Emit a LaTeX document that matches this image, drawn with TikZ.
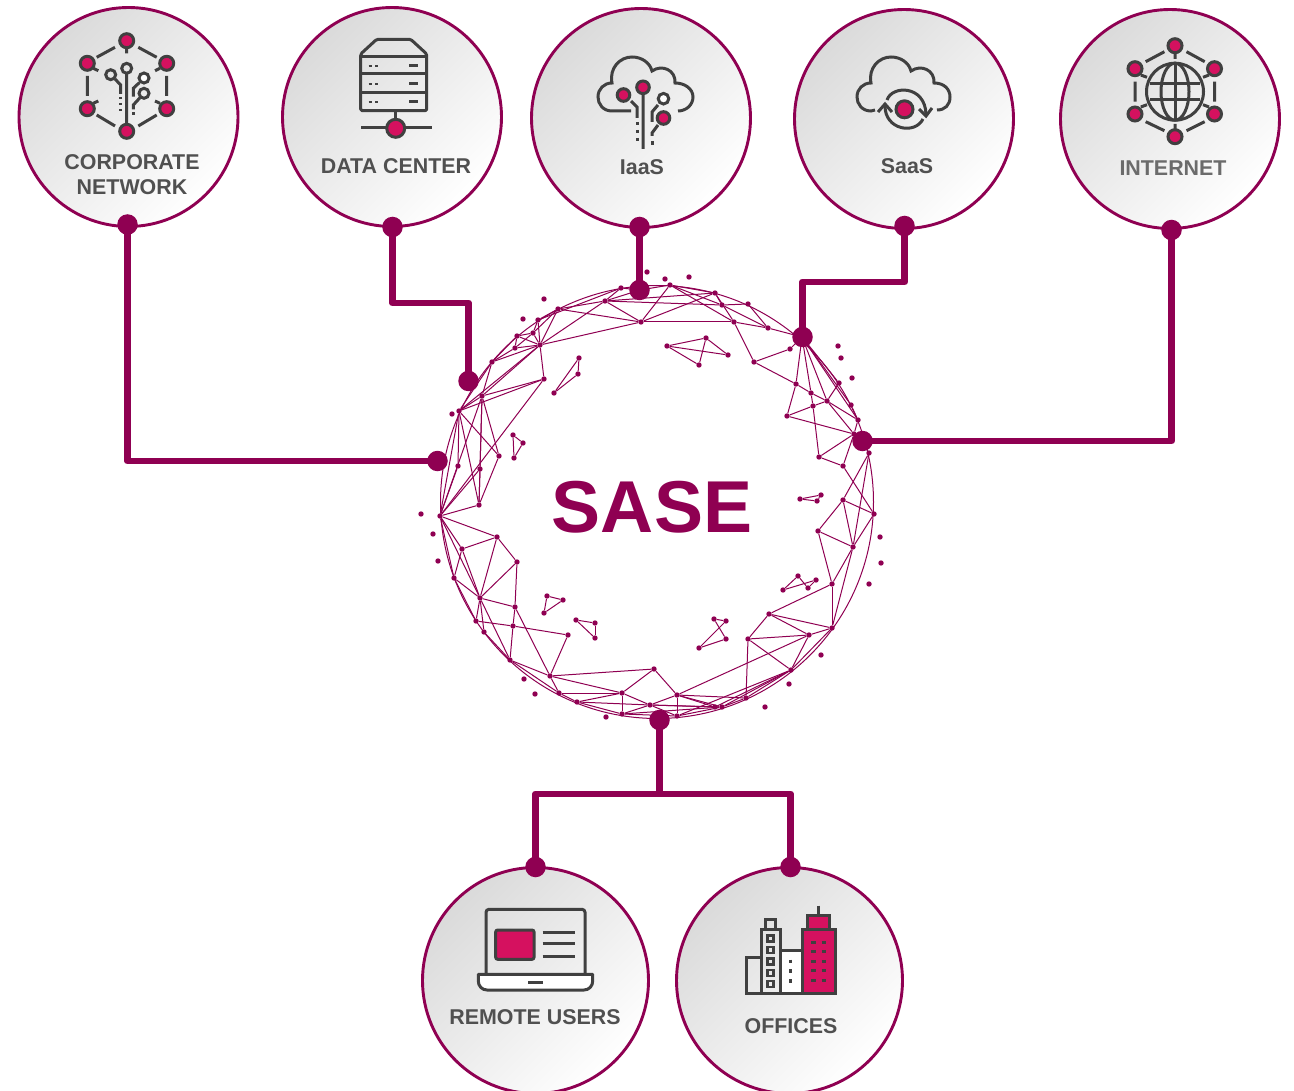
\documentclass[tikz,border=0pt]{standalone}
\usepackage{fontspec}
\setmainfont{Liberation Sans}
\definecolor{sasepurple}{HTML}{8F0052}
\definecolor{iconink}{HTML}{404040}
\definecolor{iconpink}{HTML}{D5115F}
\definecolor{labelgrey}{HTML}{505050}
\definecolor{netgrey}{HTML}{6B6B6B}
\definecolor{hubshade}{HTML}{DADADA}
\tikzset{
  hub/.style={circle,draw=sasepurple,line width=2.9pt,minimum size=219pt,inner sep=0pt,
    top color=hubshade,bottom color=white,shading angle=45},
  hubbig/.style={hub,minimum size=226pt},
  portdot/.style={circle,fill=sasepurple,minimum size=20.5pt,inner sep=0pt},
  conn/.style={draw=sasepurple,line width=6.7pt,line join=round},
  lbl/.style={font=\fontsize{21.4}{25}\selectfont\bfseries,text=labelgrey,align=center,inner sep=0pt},
  ic/.style={draw=iconink,line width=3pt},
  icthin/.style={draw=iconink,line width=2.4pt},
  inode/.style={ic,fill=iconpink},
  wnode/.style={ic,fill=white},
  md/.style={circle,fill=sasepurple,minimum size=5.4pt,inner sep=0pt},
  mline/.style={draw=sasepurple,line width=1pt}
}
\begin{document}
\begin{tikzpicture}[x=1pt,y=-1pt]
\useasboundingbox (0,0) rectangle (1294,1091);
% ---------- mesh ring
\draw[mline] (657,502) circle[radius=216.5pt];
\foreach \n/\x/\y in {A1/459/411,A2/482/396,A3/544/379,A4/492/362,A5/515/348,A6/517/336,A7/533/333,A8/540/345,A9/538/320,A10/558/309,A11/605/301,A12/621/288,A13/641/322,A14/499/456,A15/458/466,A16/480/469,
 B1/440/516,B2/479/505,B3/497/537,B4/517/562,B5/462/549,B6/454/578,B7/480/598,B8/515/607,B9/476/621,B10/484/632,B11/513/626,B12/568/635,B13/510/660,B14/550/676,B15/559/693,B16/577/702,B17/622/693,B18/622/714,B19/650/705,
 C1/874/514,C2/843/500,C3/818/531,C4/853/547,C5/832/584,C6/769/614,C7/832/628,C8/809/635,C9/748/639,C10/791/670,C11/746/698,C12/722/707,C13/677/716,C14/677/695,C15/654/669,C16/715/707,
 D1/670/285,D2/715/293,D3/722/305,D4/748/304,D5/734/322,D6/768/328,D7/802/337,D8/790/349,D9/754/362,D10/796/384,D11/811/393,D12/827/401,D13/813/406,D14/787/416,D15/839/383,D16/851/405,D17/858/420,D18/854/434,D19/863/441,D20/869/453,D21/819/457,D22/843/466,T/640/290,
 s1/579/358,s2/578/374,s3/554/393,s4/513/435,s5/523/443,s6/514/458,s7/547/596,s8/563/600,s9/544/613,s10/576/620,s11/595/623,s12/595/638,
 s13/800/499,s14/821/495,s15/817/501,s16/798/576,s17/816/580,s18/808/588,s19/783/590,s20/714/619,s21/726/621,s22/726/639,s23/699/648,s24/667/346,s25/706/338,s26/728/355,s27/699/365,
 o1/544/299,o2/523/319,o3/452/414,o4/647/272,o5/421/514,o6/433/534,o7/438/561,o8/524/679,o9/535/694,o10/606/717,o11/880/537,o12/881/563,o13/869/584,o14/821/655,o15/789/684,o16/765/707,o17/665/279,o18/689/277,o19/838/346,o20/841/358,o21/852/378}
  \node[md] (\n) at (\x,\y) {};
\foreach \a/\b in {A1/A2,A1/A4,A1/A8,A1/A3,A1/A15,A1/A14,A1/B1,A1/B2,A2/A3,A2/A4,A2/A8,A2/A14,A2/A16,A2/B2,A2/B1,A3/A8,A3/B1,A4/A5,A4/A8,A4/A6,A5/A6,A5/A8,A5/A7,A6/A7,A6/A8,A7/A8,A7/A9,A7/A10,A8/A9,A8/A10,A8/A11,A8/A13,A9/A10,A9/A12,A10/A11,A10/A13,A11/A12,A11/A13,A12/T,A11/T,A14/B2,A15/B1,A16/B2,A16/B1,
 B1/B2,B1/B3,B3/B4,B3/B5,B5/B1,B1/B7,B5/B6,B5/B7,B3/B7,B4/B7,B4/B8,B7/B8,B6/B7,B7/B9,B7/B10,B7/B13,B8/B11,B9/B11,B11/B12,B11/B13,B8/B14,B12/B14,B10/B13,B13/B14,B13/B15,B14/B15,B14/C15,B14/B17,B15/B17,B15/B16,B16/B17,B16/B19,B17/B19,B17/B18,B16/B18,B18/B19,B1/B6,B6/B9,
 C1/C2,C1/C4,C2/C3,C3/C4,C2/C4,C3/C5,C4/C5,C4/C7,C5/C7,C5/C6,C6/C7,C6/C8,C6/C9,C7/C8,C8/C9,C8/C10,C9/C10,C9/C11,C8/C14,C7/C10,C10/C11,C10/C12,C10/C16,C11/C12,C14/C11,C14/C12,C14/C15,C13/C10,C13/C12,C14/C16,C15/B17,C13/B19,C13/C14,B19/C14,B19/C12,B18/C13,B18/C12,C16/B19,
 T/D1,A13/D1,A13/D2,A13/D5,D1/D2,D1/D3,D1/D5,A11/D2,A11/D3,D2/D3,D2/D5,D3/D4,D3/D6,D4/D6,D5/D6,D5/D9,D6/D7,D9/D8,D8/D7,D9/D10,D10/D11,D11/D12,D12/D17,D7/D10,D7/D11,D7/D12,D7/D15,D7/D16,D7/D17,D10/D14,D14/D13,D13/D12,D11/D13,D12/D15,D12/D18,D14/D18,D13/D21,D21/D18,D21/D22,D22/D18,D18/D17,D17/D16,D20/C2,D20/C4,D22/C1,D19/D20,
 s1/s2,s2/s3,s3/s1,s4/s5,s5/s6,s6/s4,s7/s8,s8/s9,s9/s7,s10/s11,s11/s12,s12/s10,s13/s14,s14/s15,s15/s13,s16/s18,s16/s19,s19/s17,s17/s18,s20/s22,s22/s23,s23/s21,s21/s20,s24/s25,s25/s27,s27/s24,s24/s26,s25/s26}
  \draw[mline] (\a) -- (\b);
% ---------- hubs
\node[hub] (h1) at (128.5,117) {};
\node[hub] (h2) at (392,117) {};
\node[hub] (h3) at (641,118) {};
\node[hub] (h4) at (904,119) {};
\node[hub] (h5) at (1170,119) {};
\node[hubbig] (h6) at (535.5,980.5) {};
\node[hubbig] (h7) at (789.5,980.5) {};
% ---------- centre label
\node[font=\fontsize{73.5}{80}\selectfont\bfseries,text=sasepurple,inner sep=0pt] (sase) at (652,507) {SASE};
% ---------- connector dots
\node[portdot] (p1a) at (127.5,224.5) {};
\node[portdot] (p1b) at (437.5,461) {};
\node[portdot] (p2a) at (392.5,227) {};
\node[portdot] (p2b) at (468.5,381) {};
\node[portdot] (p3a) at (639.5,227) {};
\node[portdot] (p3b) at (639.5,290) {};
\node[portdot] (p4a) at (904.5,226) {};
\node[portdot] (p4b) at (802.5,337) {};
\node[portdot] (p5a) at (1171.5,230) {};
\node[portdot] (p5b) at (862.5,441) {};
\node[portdot] (p6) at (659.5,720) {};
\node[portdot] (p7) at (535.5,867) {};
\node[portdot] (p8) at (790.5,867) {};
\coordinate (k2) at (392.5,303);
\coordinate (k4) at (904.5,282);
\coordinate (j) at (659.5,794);
% ---------- connectors
\draw[conn] (p1a.center) |- (p1b.center);
\draw[conn] (p2a.center) |- (k2) -| (p2b.center);
\draw[conn] (p3a.center) -- (p3b.center);
\draw[conn] (p4a.center) |- (k4) -| (p4b.center);
\draw[conn] (p5a.center) |- (p5b.center);
\draw[conn] (p6.center) -- (j);
\draw[conn] (p7.center) |- (j) -| (p8.center);
% ---------- labels
\node[lbl] (t1) at (132,175) {CORPORATE\\NETWORK};
\node[lbl] (t2) at (396,166) {DATA CENTER};
\node[lbl] (t3) at (642,167) {IaaS};
\node[lbl] (t4) at (907,166) {SaaS};
\node[lbl,text=netgrey] (t5) at (1173,168) {INTERNET};
\node[lbl] (t6) at (535,1017) {REMOTE USERS};
\node[lbl] (t7) at (791,1026) {OFFICES};
% ---------- icon: corporate network
\draw[ic] (96.7,57.3)--(115,47.3) (138.3,47.3)--(156.7,57.3) (87.3,76)--(87.3,96) (166.7,76)--(166.7,96) (96.7,115)--(115,126) (138.3,126)--(156.7,115)
  (126.7,48.3)--(126.7,53.3) (93.3,68.3)--(98.3,70.7) (160,68.3)--(155,70.7) (93.3,103.3)--(98.3,101) (160,103.3)--(155,101)
  (126.7,73.3)--(126.7,124) (115,79)--(120.7,85)--(120.7,94) (139.3,82.7)--(133.3,88.3)--(133.3,96.7) (140,97.7)--(133.3,105)--(133.3,109.3);
\draw[ic,dash pattern=on 2.5pt off 3.5pt] (120.7,97)--(120.7,113);
\draw[ic] (133.3,112.5)--(133.3,115.5);
\foreach \x/\y in {126.7/40.7,87.3/63.3,166.7/63.3,87.3/108.7,166.7/108.7,126.7/131.3}
  \draw[inode] (\x,\y) circle[radius=7pt];
\draw[ic] (126.7,68.3) circle[radius=5pt] (110.7,74.7) circle[radius=5pt] (144,93.3) circle[radius=5pt];
\draw[wnode] (144,78) circle[radius=5pt];
% ---------- icon: data center
\draw[ic,line join=round,rounded corners=1.5pt] (360.7,54)--(376.7,39.3)--(410.7,39.3)--(426.7,54)--(426.7,110.7)--(360.7,110.7)--cycle;
\draw[ic] (360.7,56.7)--(426.7,56.7) (360.7,74)--(426.7,74) (360.7,92.3)--(426.7,92.3) (395.7,111)--(395.7,120) (361,127.7)--(432.3,127.7);
\foreach \y in {66,84,102}{
  \draw[icthin] (368.5,\y)--(371.5,\y) (375.2,\y)--(378.2,\y);
  \draw[ic] (409.3,\y)--(418.3,\y);}
\draw[inode] (395.7,128.3) circle[radius=9pt];
% ---------- icon: IaaS
\draw[ic] (631,111)--(612,111) .. controls (603,111) and (598,104) .. (598,97) .. controls (598,89) and (604,83) .. (612,83) .. controls (609,68) and (620,57) .. (632,57) .. controls (642,57) and (650,63) .. (652,71) .. controls (662,64) and (676,70) .. (675,83) .. controls (685,83) and (693,89) .. (693,97) .. controls (693,105) and (686,111) .. (678,111);
\draw[ic] (643,95)--(643,149) (631,101)--(637,107)--(637,118) (658,105)--(652,112)--(652,122) (658,125)--(652,133)--(652,136);
\draw[ic,dash pattern=on 3pt off 5pt] (637,122)--(637,142);
\draw[ic] (652,141)--(652,145);
\draw[inode] (643,87.3) circle[radius=6.3pt] (623.5,95) circle[radius=6.3pt] (663.5,118) circle[radius=6.3pt];
\draw[wnode] (663.5,98.7) circle[radius=5.3pt];
% ---------- icon: SaaS
\draw[ic] (875,110)--(871,111) .. controls (862,111) and (857,104) .. (857,97) .. controls (857,89) and (863,83) .. (871,83) .. controls (868,68) and (879,57) .. (891,57) .. controls (901,57) and (909,63) .. (911,71) .. controls (921,64) and (935,70) .. (934,83) .. controls (944,83) and (950,89) .. (950,97) .. controls (950,105) and (945,110) .. (937,110);
\draw[ic] (887,100) .. controls (892,85) and (925,85) .. (926,114) (923,119) .. controls (915,135) and (885,130) .. (885,106);
\draw[ic] (919,109)--(926,116)--(932,108) (878,112)--(885,104)--(892,112);
\draw[inode] (904.5,109.3) circle[radius=8.5pt];
% ---------- icon: internet
\draw[ic] (1164.4,51.7)--(1145.7,61.7) (1186.5,51.7)--(1204.7,61.7) (1135,81.7)--(1135,101.7) (1214.5,81.7)--(1214.5,101.7) (1145.7,121.7)--(1164.4,130.7) (1186.5,130.7)--(1204.7,121.7)
  (1175,52.7)--(1175,59) (1175,124)--(1175,130) (1140.8,75)--(1147,77.3) (1209,75)--(1203,77.3) (1140.8,107)--(1147,104.7) (1209,107)--(1203,104.7);
\draw[ic] (1175,91.7) circle[radius=28.5pt];
\draw[ic] (1175,91.7) ellipse[x radius=14pt,y radius=28.5pt];
\draw[ic] (1175,63.2)--(1175,120.2) (1150,83.5)--(1200,83.5) (1150,100)--(1200,100);
\foreach \x/\y in {1175/45.7,1135/68.7,1214.5/68.7,1135/114,1214.5/114,1175/136.7}
  \draw[inode] (\x,\y) circle[radius=7pt];
% ---------- icon: laptop
\draw[ic,rounded corners=3pt] (486,974)--(486,909.3)--(585,909.3)--(585,974);
\draw[ic,fill=white,line join=round] (478.3,974.3)--(478.3,981) .. controls (478.3,986) and (482,990) .. (487,990)--(584,990) .. controls (589,990) and (592.7,986) .. (592.7,981)--(592.7,974.3)--cycle;
\draw[ic] (528.3,982.3)--(542.7,982.3);
\draw[ic,fill=iconpink,rounded corners=2pt] (495.7,930) rectangle (534,959.3);
\draw[ic] (542.7,932)--(575,932) (542.7,943.7)--(575,943.7) (542.7,956)--(575,956);
% ---------- icon: offices
\draw[ic] (746,957.7) rectangle (761.7,993.3);
\draw[ic] (761.7,929) rectangle (780,993.3);
\draw[ic] (765.7,919) rectangle (775.7,929);
\foreach \y in {938.3,950,961.3,972.7,984}
  \draw[icthin] (767.3,\y-3) rectangle (773.3,\y+3);
\draw[ic,fill=white] (780,950) rectangle (802.3,993.3);
\draw[ic] (790.7,959.5)--(790.7,963) (790.7,969)--(790.7,972.5) (790.7,979)--(790.7,982.5);
\draw[ic,fill=iconpink] (802.3,929) rectangle (835.7,993.3);
\draw[ic,fill=iconpink] (807.7,915.7) rectangle (829.3,929);
\draw[ic] (818.3,905.7)--(818.3,915.7);
\foreach \y in {942,951.7,961.7,970.7,980.7}
  \draw[ic] (811,\y)--(815.7,\y) (821.7,\y)--(826,\y);
\end{tikzpicture}
\end{document}
